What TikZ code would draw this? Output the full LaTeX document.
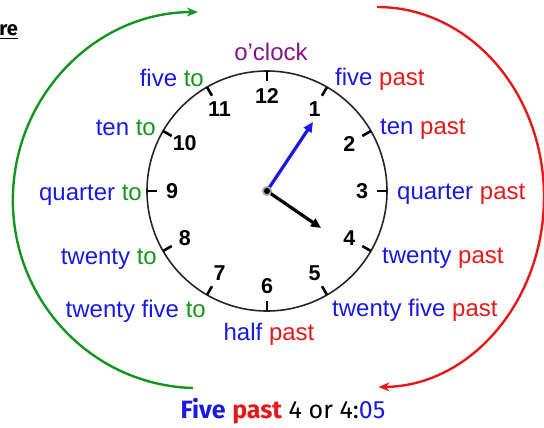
\documentclass[tikz,border=0pt]{standalone}
\usepackage{fontspec}
\setmainfont{Liberation Sans}
\newfontfamily\handfont{Fira Sans}
\usetikzlibrary{arrows.meta,calc}
\definecolor{lblue}{RGB}{25,25,225}
\definecolor{lgreen}{RGB}{20,150,30}
\definecolor{lred}{RGB}{230,25,25}
\definecolor{lpurple}{RGB}{130,20,140}
\begin{document}
\begin{tikzpicture}[x=1pt,y=-1pt,
  lbl/.style={inner sep=0pt,font=\fontsize{24}{27}\selectfont},
  num/.style={inner sep=0pt,font=\fontsize{21.5}{24}\selectfont\bfseries},
  tickmark/.style={line width=2.6pt,black},
  hand/.style={line width=3.2pt,-{Triangle[length=10pt,width=9pt]}},
  bigarc/.style={line width=2.4pt,-{Stealth[length=11pt,width=9pt]}},
]
\useasboundingbox (0,0) rectangle (544,428);
\coordinate (c) at (267,191);
% face
\draw[line width=1.6pt,black!85] (c) circle[radius=120pt];
\foreach \h in {1,...,12}{
  \pgfmathsetmacro{\a}{30*\h-90}
  \draw[tickmark] ($(c)+(\a:120)$) -- ($(c)+(\a:110)$);
  \node[num] (n\h) at ($(c)+(\a:95)$) {\h};
}
% hands
\coordinate (mtip) at (313,122);
\coordinate (htip) at (321,228);
\draw[hand,lblue] (c) -- (mtip);
\draw[hand,black] (c) -- (htip);
\fill[black!35] (c) circle[radius=5pt];
\fill[black] (c) circle[radius=3pt];
% labels
\node[lbl,anchor=mid,text=lpurple] (oclock) at (271,58) {o'clock};
\node[lbl,anchor=mid east] (fiveto) at (204,84) {\textcolor{lblue}{five} \textcolor{lgreen}{to}};
\node[lbl,anchor=mid east] (tento) at (156,133) {\textcolor{lblue}{ten} \textcolor{lgreen}{to}};
\node[lbl,anchor=mid east] (quarterto) at (142,198) {\textcolor{lblue}{quarter} \textcolor{lgreen}{to}};
\node[lbl,anchor=mid east] (twentyto) at (157,262) {\textcolor{lblue}{twenty} \textcolor{lgreen}{to}};
\node[lbl,anchor=mid east] (twentyfiveto) at (206,315) {\textcolor{lblue}{twenty five} \textcolor{lgreen}{to}};
\node[lbl,anchor=mid] (halfpast) at (269,338) {\textcolor{lblue}{half} \textcolor{lred}{past}};
\node[lbl,anchor=mid west] (fivepast) at (335,83) {\textcolor{lblue}{five} \textcolor{lred}{past}};
\node[lbl,anchor=mid west] (tenpast) at (380,132) {\textcolor{lblue}{ten} \textcolor{lred}{past}};
\node[lbl,anchor=mid west] (quarterpast) at (397,197) {\textcolor{lblue}{quarter} \textcolor{lred}{past}};
\node[lbl,anchor=mid west] (twentypast) at (382,261) {\textcolor{lblue}{twenty} \textcolor{lred}{past}};
\node[lbl,anchor=mid west] (twentyfivepast) at (332,314) {\textcolor{lblue}{twenty five} \textcolor{lred}{past}};
% big arcs
\draw[bigarc,lgreen] (193,388) arc[start angle=268.5,end angle=90,x radius=185pt,y radius=188pt];
\draw[bigarc,lred] (377,7) arc[start angle=90,end angle=-89.5,x radius=167pt,y radius=190pt];
% bottom text
\node[anchor=mid,inner sep=0pt,font=\handfont\fontsize{25}{28}\selectfont] (caption) at (283,416)
  {\textcolor{lblue}{\bfseries Five} \textcolor{lred}{\bfseries past} 4 or 4:\textcolor{lblue}{05}};
\node[anchor=base east,inner sep=0pt,font=\handfont\bfseries\fontsize{20}{22}\selectfont] (re) at (18,36) {\underline{re}};
\end{tikzpicture}
\end{document}
